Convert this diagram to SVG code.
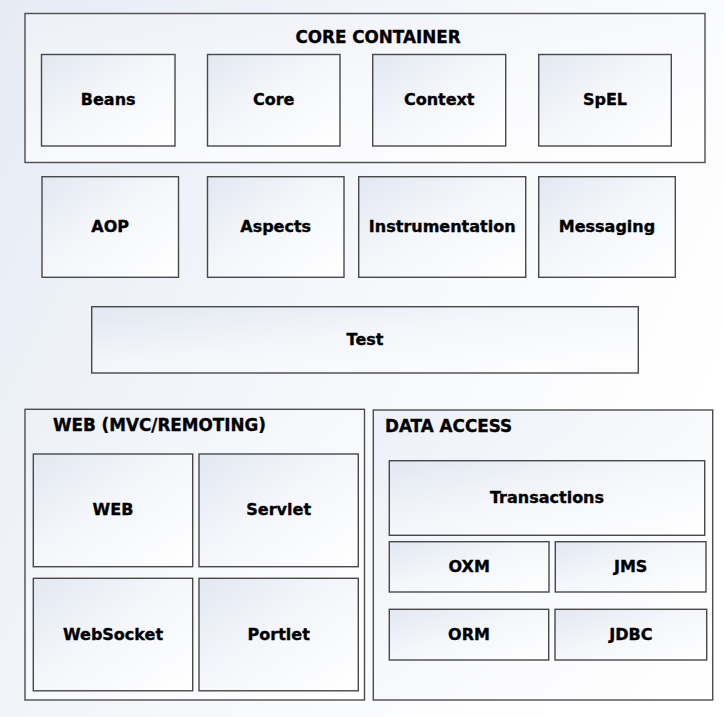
<svg xmlns="http://www.w3.org/2000/svg" width="724" height="717" viewBox="0 0 724 717">
  <defs>
    <linearGradient id="bg" x1="0" y1="0" x2="1" y2="0.5">
      <stop offset="0" stop-color="#e6ebf4"/>
      <stop offset="0.55" stop-color="#f5f7fb"/>
      <stop offset="1" stop-color="#ffffff"/>
    </linearGradient>
    <linearGradient id="group" x1="0" y1="0" x2="1" y2="1">
      <stop offset="0" stop-color="#edf0f7"/>
      <stop offset="0.5" stop-color="#f8f9fc"/>
      <stop offset="1" stop-color="#ffffff"/>
    </linearGradient>
    <linearGradient id="module" x1="0" y1="0" x2="1" y2="1">
      <stop offset="0" stop-color="#e2e7f1"/>
      <stop offset="0.45" stop-color="#f4f6fa"/>
      <stop offset="1" stop-color="#ffffff"/>
    </linearGradient>
    <style>
      .group rect { fill: url(#group); stroke: #4d4d4d; stroke-width: 1.4; }
      .module rect { fill: url(#module); stroke: #484848; stroke-width: 1.4; }
      text { font-family: "DejaVu Sans", Verdana, sans-serif; font-weight: bold; font-size: 16px; fill: #000000; stroke: #000000; stroke-width: 0.35; }
      .module text { text-anchor: middle; }
      .title { font-size: 16.8px; }
    </style>
  </defs>

  <rect x="0" y="0" width="724" height="717" fill="url(#bg)"/>

  <!-- Core container -->
  <g id="core-container" class="group">
    <rect x="25" y="13.5" width="680" height="149"/>
    <text class="title" x="378" y="43" text-anchor="middle">CORE CONTAINER</text>
  </g>
  <g id="beans" class="module">
    <rect x="41.5" y="54.5" width="133.5" height="91.5"/>
    <text x="108.2" y="105.3">Beans</text>
  </g>
  <g id="core" class="module">
    <rect x="207.5" y="54.5" width="132.5" height="91.5"/>
    <text x="273.7" y="105.3">Core</text>
  </g>
  <g id="context" class="module">
    <rect x="372.7" y="54.5" width="133" height="91.5"/>
    <text x="439.2" y="105.3">Context</text>
  </g>
  <g id="spel" class="module">
    <rect x="538.7" y="54.5" width="132.6" height="91.5"/>
    <text x="605" y="105.3">SpEL</text>
  </g>

  <!-- Cross-cutting modules -->
  <g id="aop" class="module">
    <rect x="42" y="176.7" width="136.5" height="100.6"/>
    <text x="110.2" y="232">AOP</text>
  </g>
  <g id="aspects" class="module">
    <rect x="207.5" y="176.7" width="136.5" height="100.6"/>
    <text x="275.7" y="232">Aspects</text>
  </g>
  <g id="instrumentation" class="module">
    <rect x="358.7" y="176.7" width="167" height="100.6"/>
    <text x="442.2" y="232">Instrumentation</text>
  </g>
  <g id="messaging" class="module">
    <rect x="538.7" y="176.7" width="136.6" height="100.6"/>
    <text x="607" y="232">Messaging</text>
  </g>

  <!-- Test -->
  <g id="test" class="module">
    <rect x="91.7" y="306.7" width="546.6" height="66.3"/>
    <text x="365" y="344.8">Test</text>
  </g>

  <!-- Web layer -->
  <g id="web-container" class="group">
    <rect x="25" y="409.3" width="339.5" height="290.7"/>
    <text class="title" x="53" y="430.5">WEB (MVC/REMOTING)</text>
  </g>
  <g id="web" class="module">
    <rect x="33.3" y="454" width="159.4" height="112.7"/>
    <text x="113" y="515.3">WEB</text>
  </g>
  <g id="servlet" class="module">
    <rect x="199" y="454" width="159.3" height="112.7"/>
    <text x="278.7" y="515.3">Servlet</text>
  </g>
  <g id="websocket" class="module">
    <rect x="33.3" y="578.3" width="159.4" height="112.5"/>
    <text x="113" y="639.5">WebSocket</text>
  </g>
  <g id="portlet" class="module">
    <rect x="199" y="578.3" width="159.3" height="112.5"/>
    <text x="278.7" y="639.5">Portlet</text>
  </g>

  <!-- Data access layer -->
  <g id="data-access-container" class="group">
    <rect x="373.3" y="410" width="339.4" height="290"/>
    <text class="title" x="385" y="432">DATA ACCESS</text>
  </g>
  <g id="transactions" class="module">
    <rect x="389.3" y="460.7" width="315.4" height="74.6"/>
    <text x="547" y="502.8">Transactions</text>
  </g>
  <g id="oxm" class="module">
    <rect x="389.3" y="541.7" width="159.7" height="50.3"/>
    <text x="469.2" y="571.8">OXM</text>
  </g>
  <g id="jms" class="module">
    <rect x="555.3" y="541.7" width="150.7" height="50.3"/>
    <text x="630.7" y="571.8">JMS</text>
  </g>
  <g id="orm" class="module">
    <rect x="389.3" y="609.3" width="159.4" height="50.7"/>
    <text x="469" y="639.5">ORM</text>
  </g>
  <g id="jdbc" class="module">
    <rect x="555" y="609.3" width="151.7" height="50.7"/>
    <text x="630.8" y="639.5">JDBC</text>
  </g>

  <g id="connectors"/>
</svg>
